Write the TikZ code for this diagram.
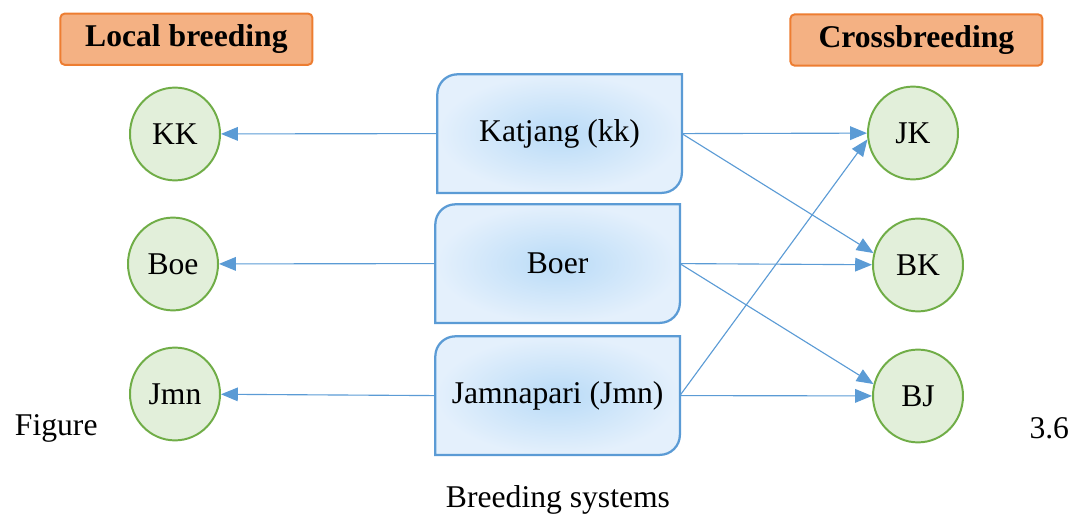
\documentclass[tikz,border=0pt]{standalone}
\usepackage{fontspec}
\setmainfont{Liberation Serif}
\definecolor{brblue}{HTML}{5B9BD5}
\definecolor{brcore}{HTML}{B9DBF7}
\definecolor{bredge}{HTML}{E4F0FC}
\definecolor{brgreen}{HTML}{70AD47}
\definecolor{brleaf}{HTML}{E2EFDA}
\definecolor{brorange}{HTML}{ED7D31}
\definecolor{brpeach}{HTML}{F4B183}
\usetikzlibrary{arrows.meta, positioning, calc, shapes.geometric}

\begin{document}
\begin{tikzpicture}[
  every node/.style={font=\fontsize{22.5}{27}\selectfont},
  breed/.style={minimum width=6.1cm, minimum height=2.95cm},
  goat/.style={ellipse, draw=brgreen, fill=brleaf, line width=1.4pt,
               minimum width=2.25cm, minimum height=2.32cm, inner sep=0pt},
  head/.style={rounded corners=3pt, draw=brorange, fill=brpeach, line width=1.4pt,
               minimum width=6.3cm, minimum height=1.28cm, font=\fontsize{22.5}{27}\selectfont\bfseries},
  link/.style={-{Triangle[length=0.42cm, width=0.34cm]}, brblue, line width=0.8pt}
]
  \useasboundingbox (0,0) rectangle (26.95,12.9);

  % Headers
  \node[head] (loc) at (4.66,11.92) {Local breeding};
  \node[head] (cro) at (22.91,11.9) {Crossbreeding};

  % Breeds
  \node[breed] (kat) at (13.99,9.56) {};
  \node[breed] (boer) at (13.94,6.31) {};
  \node[breed] (jmn) at (13.94,3.01) {};
  \foreach \b in {kat,boer,jmn}
    \path[draw=brblue, line width=1.6pt, inner color=brcore, outer color=bredge]
      (\b.north east) -- ($(\b.south east)+(0,0.5)$) arc[start angle=0, end angle=-90, radius=0.5]
      -- (\b.south west) -- ($(\b.north west)+(0,-0.5)$) arc[start angle=180, end angle=90, radius=0.5]
      -- cycle;
  \node at (kat) {Katjang (kk)};
  \node at (boer) {Boer};
  \node at (jmn) {Jamnapari (Jmn)};

  % Local breeding
  \node[goat] (kk) at (4.375,9.55) {KK};
  \node[goat] (boe) at (4.325,6.3) {Boe};
  \node[goat] (jm) at (4.375,3.05) {Jmn};

  % Crossbreeding
  \node[goat] (jk) at (22.825,9.575) {JK};
  \node[goat] (bk) at (22.95,6.275) {BK};
  \node[goat] (bj) at (22.95,3.0) {BJ};

  % Arrows
  \draw[link] (kat.west) -- (kk);
  \draw[link] (boer.west) -- (boe);
  \draw[link] (jmn.west) -- (jm);
  \draw[link] (kat.east) -- (jk);
  \draw[link] (kat.east) -- (bk.165);
  \draw[link] (boer.east) -- (bk);
  \draw[link] (boer.east) -- (bj.165);
  \draw[link] (jmn.east) -- (bj);
  \draw[link] (jmn.east) -- (jk.188);

  % Caption
  \node[anchor=west] (fig) at (0.25,2.2) {Figure};
  \node[anchor=east] (num) at (26.85,2.2) {3.6};
  \node (cap) at (13.95,0.4) {Breeding systems};
\end{tikzpicture}
\end{document}
